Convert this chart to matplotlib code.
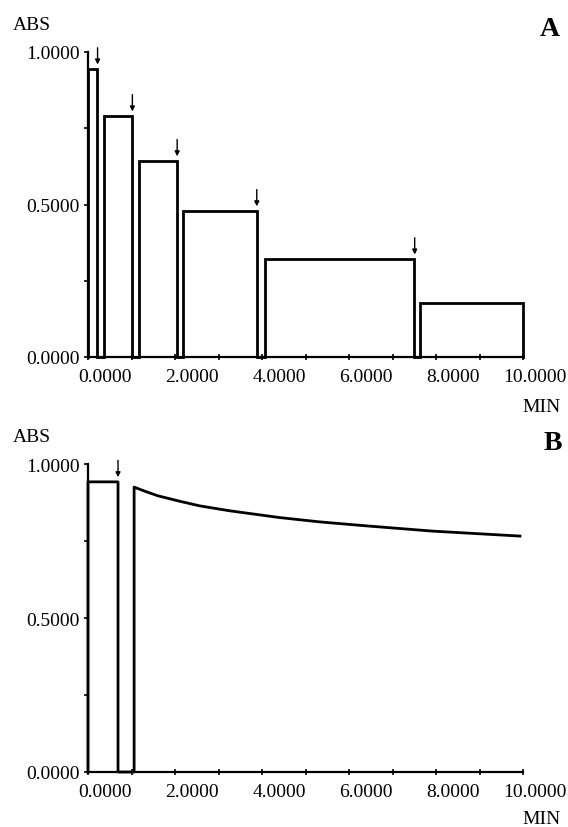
import matplotlib
matplotlib.use("Agg")
import matplotlib.pyplot as plt
from matplotlib.transforms import ScaledTranslation
import numpy as np

plt.rcParams['font.family'] = ['Liberation Serif', 'DejaVu Serif']

# ---------------- data ----------------
# Panel A: absorbance plateaus between additions (time in min)
a_start = [0.0, 0.37, 1.17, 2.18, 4.07, 7.63]
a_end = [0.21, 1.01, 2.04, 3.89, 7.50, 10.0]
a_level = [0.944, 0.79, 0.643, 0.479, 0.321, 0.177]
a_arrow_t = [0.22, 1.02, 2.05, 3.88, 7.51]

# Panel B: initial plateau, then slow decay after addition
b_first_start = 0.0
b_first_end = 0.69
b_first_level = 0.942
b_curve_t = [1.06, 1.3, 1.6, 2.11, 2.57, 3.26, 4.41, 5.33, 6.41, 7.93, 9.93]
b_curve_y = [0.925, 0.912, 0.897, 0.879, 0.864, 0.848, 0.826, 0.812, 0.799, 0.782, 0.766]
b_arrow_t = [0.69]

yticks = [0.0, 0.5, 1.0]
ytick_labels = ["0.0000", "0.5000", "1.0000"]
xticks = [0, 2, 4, 6, 8, 10]
xtick_labels = ["0.0000", "2.0000", "4.0000", "6.0000", "8.0000", "10.0000"]

W, H = 568, 828
fig = plt.figure(figsize=(W / 100, H / 100), dpi=100)
FS = 14


def fig_axes(x0, y_top, x1, y_bot):
    return fig.add_axes([x0 / W, 1 - y_bot / H, (x1 - x0) / W, (y_bot - y_top) / H])


def style_axes(ax):
    ax.set_xlim(0, 10)
    ax.set_ylim(0, 1.0)
    for s in ['top', 'right']:
        ax.spines[s].set_visible(False)
    for s in ['left', 'bottom']:
        ax.spines[s].set_linewidth(1.6)
    ax.set_yticks(yticks)
    ax.set_yticklabels(ytick_labels, fontsize=FS)
    ax.set_yticks([0.25, 0.75], minor=True)
    ax.set_xticks(xticks)
    ax.set_xticklabels(xtick_labels, fontsize=FS)
    ax.set_xticks([1, 3, 5, 7, 9], minor=True)
    ax.tick_params(axis='y', which='both', direction='out', length=3, width=1.2, pad=3)
    ax.tick_params(axis='x', which='both', direction='inout', length=4, width=1.2, pad=6)
    off = ScaledTranslation(44 / 100, 0, fig.dpi_scale_trans)
    for lab in ax.get_xticklabels():
        lab.set_horizontalalignment('right')
        lab.set_transform(lab.get_transform() + off)


def arrow(ax, t, level):
    ax.annotate('', xy=(t, level + 0.015), xytext=(t, level + 0.07),
                arrowprops=dict(arrowstyle='-|>', lw=1.0, color='black',
                                mutation_scale=7, shrinkA=0, shrinkB=0),
                annotation_clip=False)


# ---------------- Panel A ----------------
axA = fig_axes(88, 53, 523, 358)
style_axes(axA)
xs, ys = [], []
for s, e, lv in zip(a_start, a_end, a_level):
    xs += [s, s, e, e]
    ys += [0, lv, lv, 0]
axA.plot(xs, ys, color='black', lw=2.0, clip_on=False, solid_joinstyle='miter')
for t, lv in zip(a_arrow_t, a_level[:-1]):
    arrow(axA, t, lv)

# ---------------- Panel B ----------------
axB = fig_axes(88, 465, 523, 773)
style_axes(axB)
xb = [b_first_start, b_first_start, b_first_end, b_first_end, b_curve_t[0]] + b_curve_t
yb = [0, b_first_level, b_first_level, 0, 0] + b_curve_y
axB.plot(xb, yb, color='black', lw=2.0, clip_on=False, solid_joinstyle='round')
for t in b_arrow_t:
    arrow(axB, t, b_first_level)

# ---------------- labels ----------------
def ptext(x, y, s, **kw):
    fig.text(x / W, 1 - y / H, s, **kw)

ptext(13, 25, "ABS", fontsize=FS, ha='left', va='center')
ptext(13, 438, "ABS", fontsize=FS, ha='left', va='center')
ptext(561, 408, "MIN", fontsize=FS, ha='right', va='center')
ptext(561, 820, "MIN", fontsize=FS, ha='right', va='center')
ptext(560, 30, "A", fontsize=20, fontweight='bold', ha='right', va='center')
ptext(562, 443, "B", fontsize=20, fontweight='bold', ha='right', va='center')

fig.savefig("out.png", dpi=100)
